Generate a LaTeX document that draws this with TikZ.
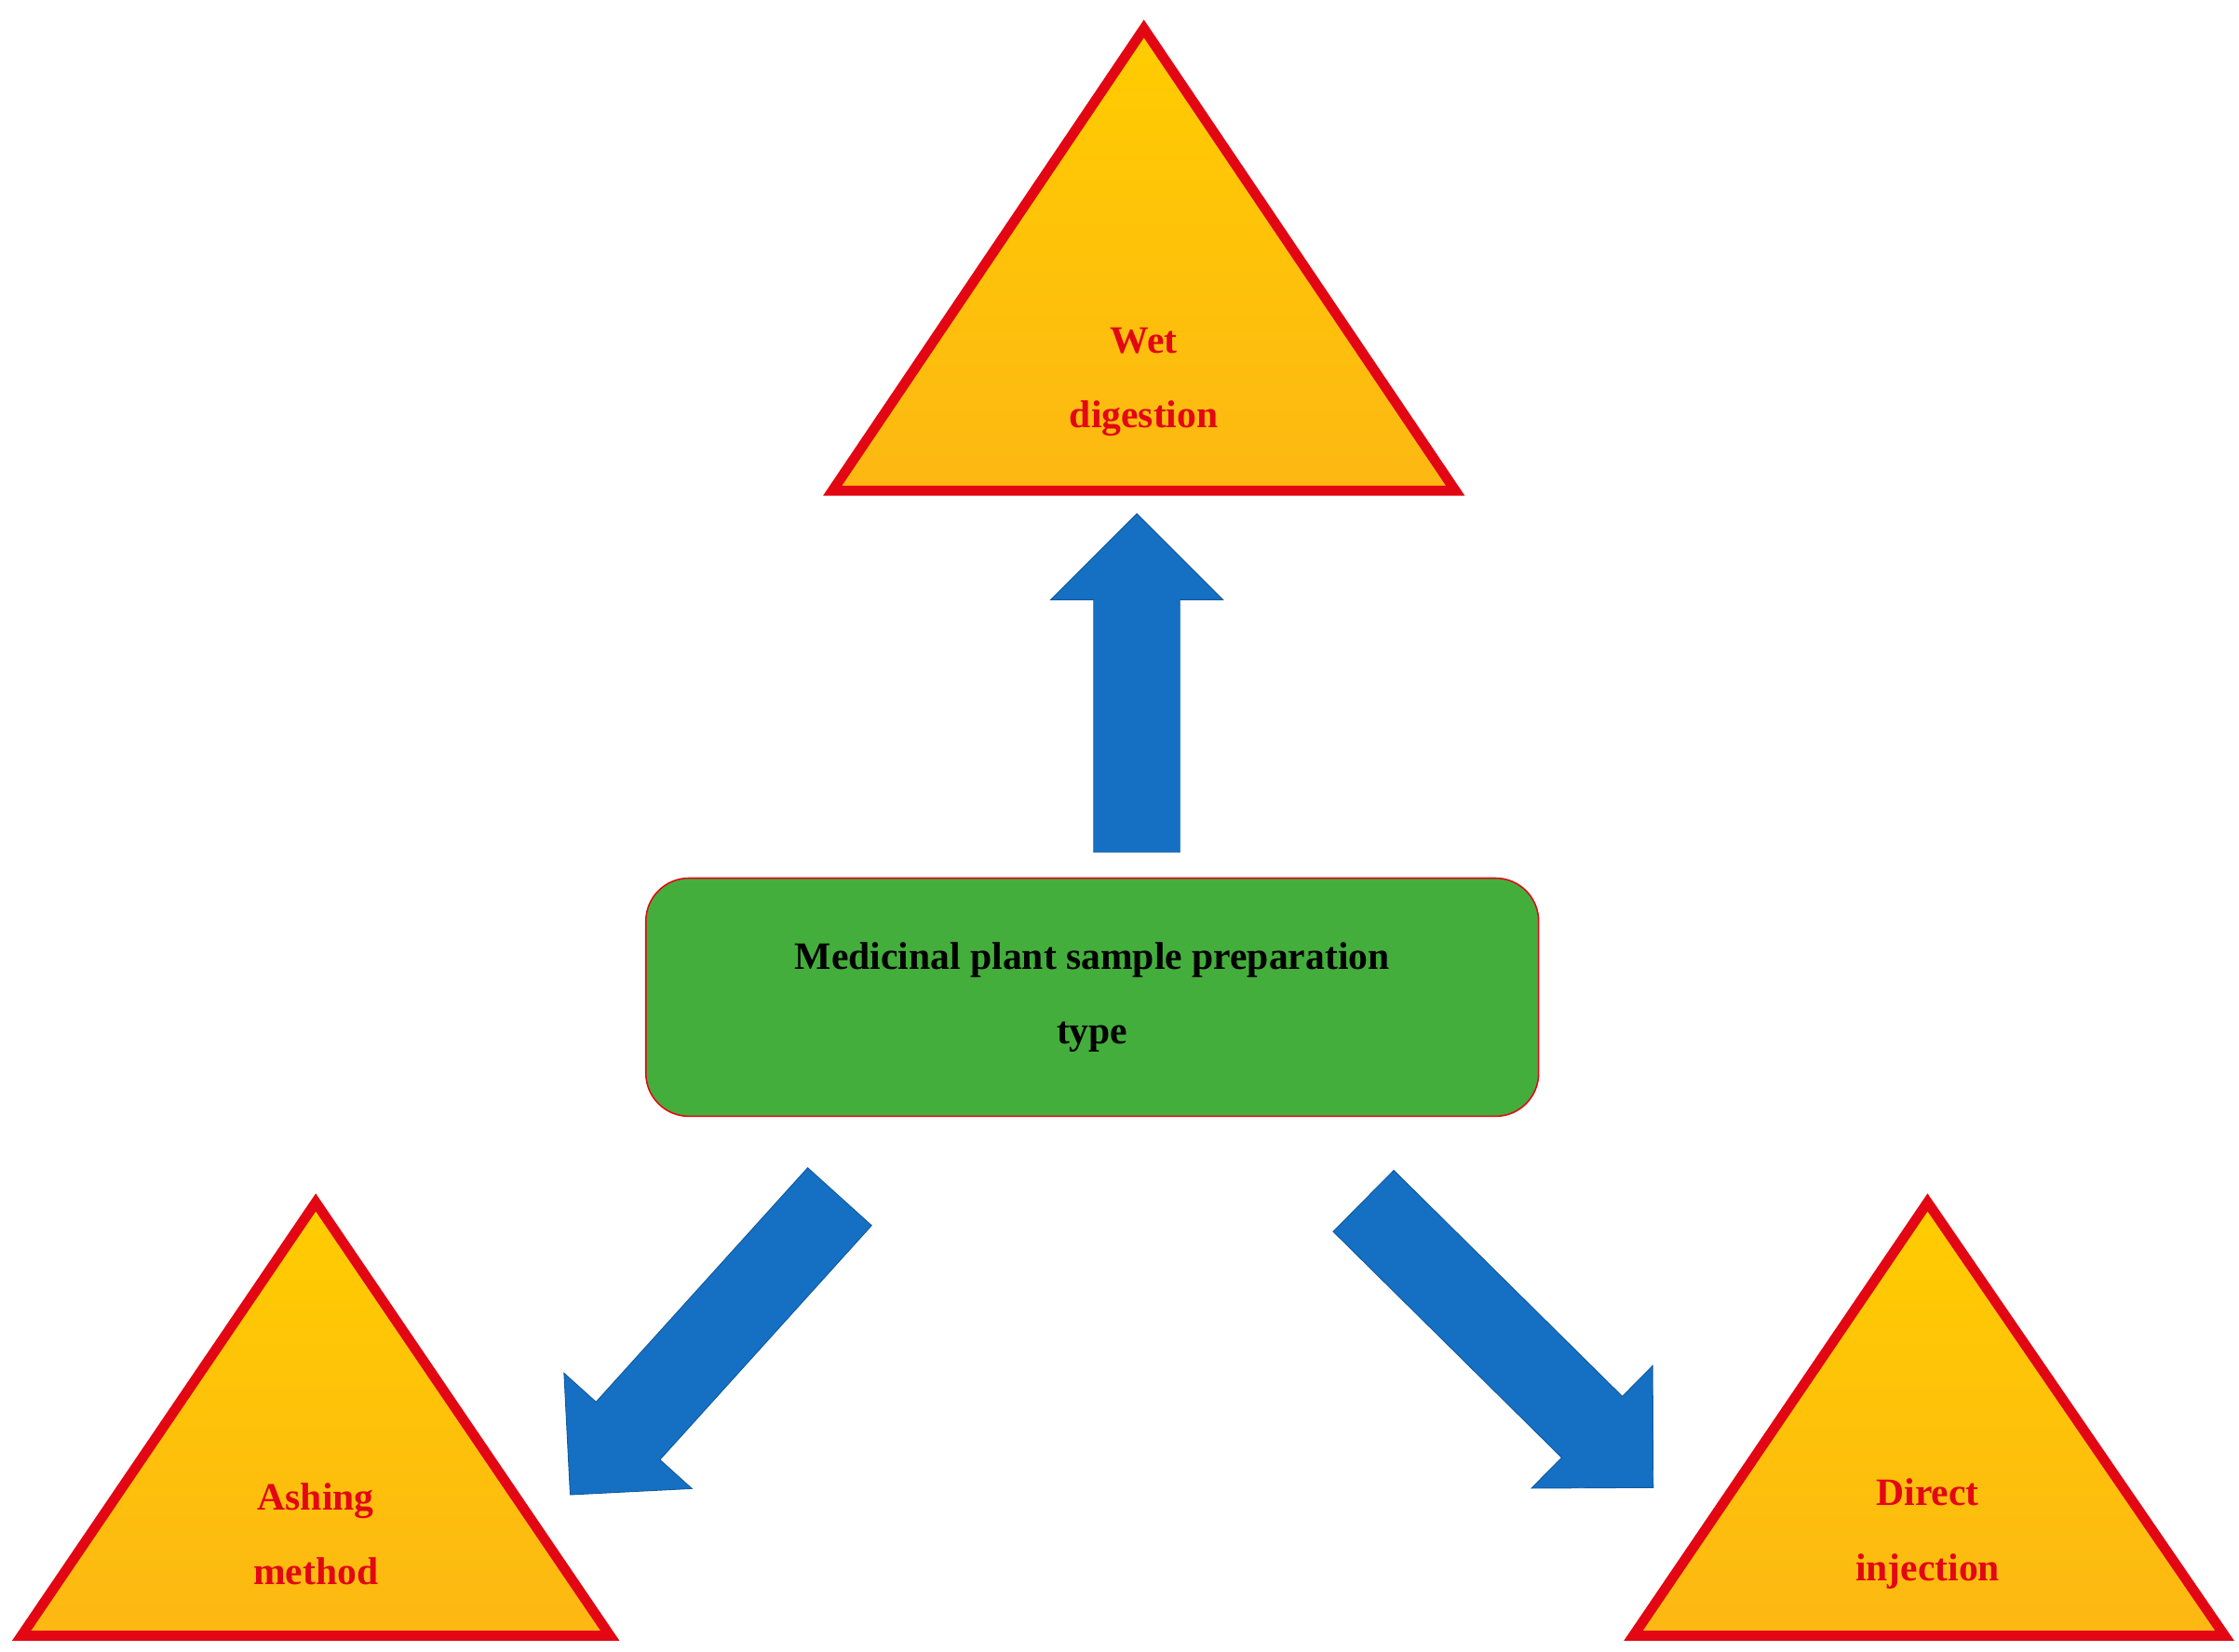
\documentclass[tikz,border=0pt]{standalone}
\usepackage{fontspec}
\setmainfont{Liberation Serif}
\begin{document}
\begin{tikzpicture}[x=1pt,y=1pt,
  tri/.style={draw=trired,line width=7pt,line join=miter,top color=triyel,bottom color=triorg},
  lab/.style={text=trired,font=\fontsize{27}{52}\selectfont\bfseries,align=center},
  barrow/.style={fill=arrblue,draw=arrblue!80!black,line width=0.6pt}]
\definecolor{trired}{HTML}{E30613}
\definecolor{triyel}{HTML}{FFCC00}
\definecolor{triorg}{HTML}{FDB813}
\definecolor{arrblue}{HTML}{1570C4}
\definecolor{boxgreen}{HTML}{44AE3C}
\useasboundingbox (0,0) rectangle (1560,1151);
% triangles
\path[tri] (797,1131) -- (580,809) -- (1014,809) -- cycle;
\path[tri] (220,313) -- (15,11) -- (425,11) -- cycle;
\path[tri] (1343,313) -- (1138,11) -- (1550,11) -- cycle;
\node[lab] (wet) at (797,885) {Wet\\digestion};
\node[lab] (ash) at (220,82) {Ashing\\method};
\node[lab] (dir) at (1343,82) {Direct\\injection};
% central box
\node[draw=trired,line width=1pt,fill=boxgreen,rounded corners=30pt,minimum width=622pt,minimum height=166pt,
  font=\fontsize{27}{52}\selectfont\bfseries,align=center] (box) at (761,456) {Medicinal plant sample preparation\\type};
% arrows
\foreach \x/\y/\a/\L in {792/557/90/236, 585/317/227.9/280, 950/314/-44.7/284}{
  \path[barrow,shift={(\x,\y)},rotate=\a] (0,-30) -- (\L-60,-30) -- (\L-60,-60) -- (\L,0) -- (\L-60,60) -- (\L-60,30) -- (0,30) -- cycle;
}
\end{tikzpicture}
\end{document}
